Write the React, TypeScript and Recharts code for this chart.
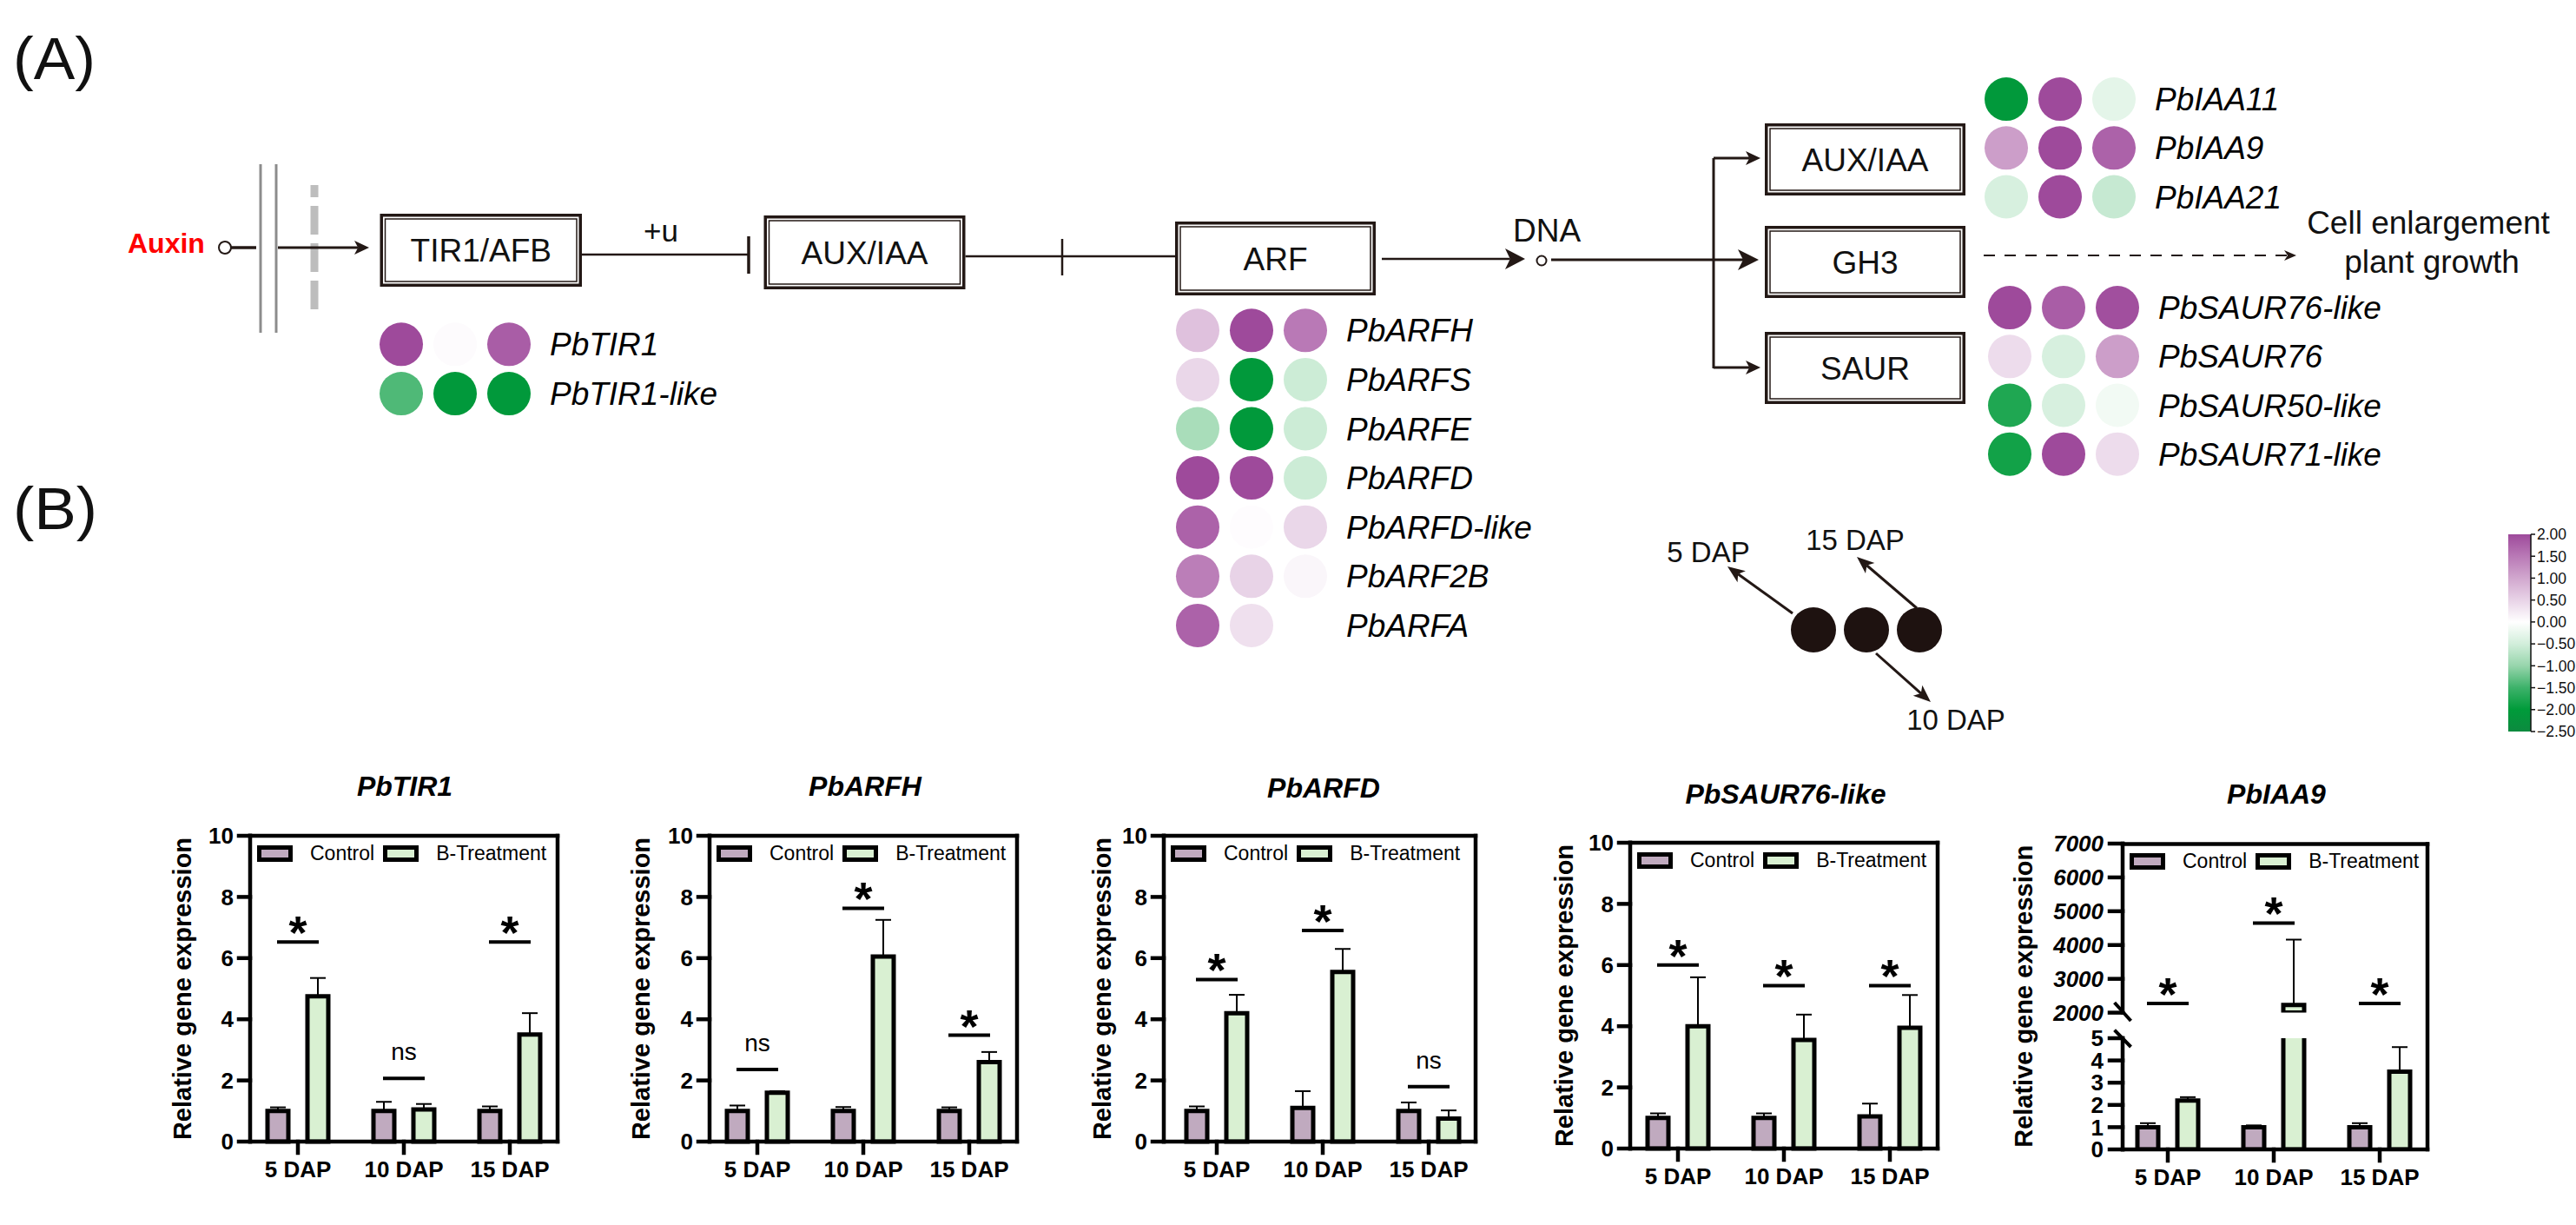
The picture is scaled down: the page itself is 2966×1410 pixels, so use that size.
import React from 'react';
import { ComposedChart, ScatterChart, Bar, Scatter, XAxis, YAxis, ErrorBar, Legend, Label } from 'recharts';

const FONT = '"Liberation Sans", Arial, Helvetica, sans-serif';
const INK = '#231815';

// ---------------- Panel A : heat-map values (z-scores) ----------------
const heatColumns = ['5 DAP', '10 DAP', '15 DAP'];
const tirGenes = ['PbTIR1', 'PbTIR1-like'];
const tirValues = [
  [2.0, 0.05, 1.8],
  [-1.4, -2.05, -2.05],
];
const arfGenes = ['PbARFH', 'PbARFS', 'PbARFE', 'PbARFD', 'PbARFD-like', 'PbARF2B', 'PbARFA'];
const arfValues = [
  [0.7, 2.0, 1.5],
  [0.45, -2.05, -0.55],
  [-0.85, -2.05, -0.55],
  [2.0, 2.0, -0.55],
  [1.75, 0.03, 0.45],
  [1.45, 0.5, 0.1],
  [1.75, 0.35, null],
];
const iaaGenes = ['PbIAA11', 'PbIAA9', 'PbIAA21'];
const iaaValues = [
  [-2.05, 2.0, -0.3],
  [1.1, 2.0, 1.75],
  [-0.45, 2.0, -0.6],
];
const saurGenes = ['PbSAUR76-like', 'PbSAUR76', 'PbSAUR50-like', 'PbSAUR71-like'];
const saurValues = [
  [2.0, 1.8, 1.95],
  [0.4, -0.45, 1.1],
  [-1.75, -0.45, -0.15],
  [-1.85, 2.0, 0.4],
];
const colorbarTicks = [2, 1.5, 1, 0.5, 0, -0.5, -1, -1.5, -2, -2.5];
const heatStopValues = [-2.5, -2, -1.5, -1, -0.5, 0, 0.5, 1, 1.5, 2];
const heatStopColors = ['#0C8A3F', '#009B3A', '#3DB26A', '#97D5AC', '#D2EEDB', '#FFFFFF', '#E8D3E7', '#D1A7CE', '#B979B6', '#9E4A9B'];

// ---------------- Panel B : qRT-PCR ----------------
const daps = ['5 DAP', '10 DAP', '15 DAP'];
const seriesNames = ['Control', 'B-Treatment'];
const CONTROL_FILL = '#C0AABF';
const TREAT_FILL = '#D9F0D2';

const tir1Control = [1.0, 1.0, 1.0];
const tir1ControlErr = [0.12, 0.3, 0.15];
const tir1Treat = [4.75, 1.05, 3.5];
const tir1TreatErr = [0.6, 0.18, 0.7];
const tir1SigY = [6.53, 2.07, 6.53];
const tir1SigText = ['*', 'ns', '*'];

const arfhControl = [1.0, 1.0, 1.0];
const arfhControlErr = [0.18, 0.13, 0.12];
const arfhTreat = [1.6, 6.05, 2.6];
const arfhTreatErr = [0.05, 1.2, 0.33];
const arfhSigY = [2.36, 7.63, 3.48];
const arfhSigText = ['ns', '*', '*'];

const arfdControl = [1.0, 1.1, 1.0];
const arfdControlErr = [0.15, 0.55, 0.28];
const arfdTreat = [4.2, 5.55, 0.75];
const arfdTreatErr = [0.6, 0.75, 0.27];
const arfdSigY = [5.3, 6.9, 1.8];
const arfdSigText = ['*', '*', 'ns'];

const saurControl = [1.0, 1.0, 1.05];
const saurControlErr = [0.15, 0.15, 0.42];
const saurTreat = [4.0, 3.55, 3.95];
const saurTreatErr = [1.6, 0.83, 1.07];
const saurSigY = [6.0, 5.33, 5.33];
const saurSigText = ['*', '*', '*'];

const iaa9Control = [1.0, 1.0, 1.0];
const iaa9ControlErr = [0.18, 0.08, 0.18];
const iaa9Treat = [2.2, 2230, 3.5];
const iaa9TreatErr = [0.15, 1930, 1.1];
const iaa9SigY = [2275, 4650, 2275];
const iaa9SigText = ['*', '*', '*'];

const yTicks10 = [0, 2, 4, 6, 8, 10];
const iaa9UpperTicks = [2000, 3000, 4000, 5000, 6000, 7000];
const iaa9LowerTicks = [0, 1, 2, 3, 4, 5];
const IAA9_BREAK_LOW = 2000;
const IAA9_BREAK_HIGH = 7000;
const IAA9_LOW_MAX = 5;

// ---------------- layout ----------------
type Lay = { L: number; T: number; W: number; H: number; yw: number; padL: number; padR: number };
const LAY_TIR1: Lay = { L: 288, T: 962, W: 354, H: 352, yw: 156, padL: -6, padR: -6 };
const LAY_ARFH: Lay = { L: 817, T: 962, W: 354, H: 352, yw: 158, padL: -6, padR: -6 };
const LAY_ARFD: Lay = { L: 1340, T: 962, W: 359, H: 352, yw: 142, padL: 0, padR: -7 };
const LAY_SAUR: Lay = { L: 1877, T: 970, W: 354, H: 352, yw: 152, padL: -6, padR: -6 };
const IAA9 = { L: 2444, W: 351, yw: 228, upT: 971.4, upH: 194.6, lowT: 1195, lowH: 128 };

// ---------------- helpers ----------------
function hexToRgb(h: string) {
  const n = parseInt(h.slice(1), 16);
  return [(n >> 16) & 255, (n >> 8) & 255, n & 255];
}
function heatColor(v: number) {
  const vs = heatStopValues;
  const x = Math.max(vs[0], Math.min(vs[vs.length - 1], v));
  let i = 0;
  while (i < vs.length - 2 && x > vs[i + 1]) i++;
  const t = (x - vs[i]) / (vs[i + 1] - vs[i]);
  const a = hexToRgb(heatStopColors[i]);
  const b = hexToRgb(heatStopColors[i + 1]);
  const c = a.map((av, k) => Math.round(av + (b[k] - av) * t));
  return `rgb(${c[0]},${c[1]},${c[2]})`;
}

function makeRows(ctrl: number[], ctrlErr: number[], trt: number[], trtErr: number[], sigY: number[], sigText: string[]) {
  return daps.map((dap, i) => ({
    dap,
    control: ctrl[i],
    controlErr: [0, ctrlErr[i]],
    treat: trt[i],
    treatErr: [0, trtErr[i]],
    sig: sigY[i],
    sigText: sigText[i],
  }));
}

const BAR_STROKE = 5;
const AXIS_W = 4.5;
const AXIS_LINE = { stroke: '#000', strokeWidth: AXIS_W, strokeLinecap: 'square' };
const TICK_STYLE = { fill: '#000', fontSize: 26, fontWeight: 700, fontFamily: FONT };

const SigShape = (props: any) => {
  const { cx, cy, payload } = props;
  if (cx == null || cy == null || payload == null || payload.sig == null) return <g />;
  const star = payload.sigText === '*';
  return (
    <g>
      <line x1={cx - 24} x2={cx + 24} y1={cy} y2={cy} stroke="#000" strokeWidth={4} />
      <text
        x={cx}
        y={star ? cy + 8 : cy - 21}
        textAnchor="middle"
        fontFamily={FONT}
        fontWeight={star ? 700 : 400}
        fontSize={star ? 54 : 28}
        fill="#000"
      >
        {payload.sigText}
      </text>
    </g>
  );
};

const LegendContent = (props: any) => {
  const items = (props.payload || [])
    .filter((it: any) => seriesNames.indexOf(it.value) >= 0)
    .sort((a: any, b: any) => seriesNames.indexOf(a.value) - seriesNames.indexOf(b.value));
  return (
    <div style={{ display: 'flex', alignItems: 'center', fontFamily: FONT, fontSize: 23, color: '#000', whiteSpace: 'nowrap', lineHeight: '19px' }}>
      {items.map((it: any, i: number) => (
        <div key={i} style={{ display: 'flex', alignItems: 'center', marginRight: 10 }}>
          <svg width={41} height={19} style={{ display: 'block' }}>
            <rect x={2.5} y={2.5} width={36} height={14} fill={it.value === seriesNames[0] ? CONTROL_FILL : TREAT_FILL} stroke="#000" strokeWidth={5} />
          </svg>
          <span style={{ marginLeft: 20 }}>{it.value}</span>
        </div>
      ))}
    </div>
  );
};

const RotLabel = (props: any) => {
  const { viewBox, shift } = props;
  if (!viewBox) return null;
  const cx = viewBox.x + viewBox.width / 2;
  const cy = viewBox.y + viewBox.height / 2 + (shift || 0);
  return (
    <text x={cx} y={cy} dy="0.355em" transform={`rotate(-90 ${cx} ${cy})`} textAnchor="middle" fill="#000" fontFamily={FONT} fontSize={29} fontWeight={700}>
      Relative gene expression
    </text>
  );
};

function BarPanel({ rows, lay }: { rows: any[]; lay: Lay }) {
  const mt = 20;
  const mr = 20;
  const xh = 60;
  const width = lay.yw + lay.W + mr;
  const height = mt + lay.H + xh;
  return (
    <div style={{ position: 'absolute', left: lay.L - lay.yw, top: lay.T - mt, width, height }}>
      <ComposedChart width={width} height={height} data={rows} margin={{ top: mt, right: mr, bottom: 0, left: 0 }} barGap={22}>
        <XAxis dataKey="dap" stroke="#000" strokeWidth={AXIS_W} padding={{ left: lay.padL, right: lay.padR }} height={xh} tickSize={13} tickMargin={10} axisLine={AXIS_LINE} tickLine={AXIS_LINE} tick={TICK_STYLE} interval={0} />
        <YAxis domain={[0, 10]} stroke="#000" strokeWidth={AXIS_W} ticks={yTicks10} width={lay.yw} tickSize={13} tickMargin={6} axisLine={AXIS_LINE} tickLine={AXIS_LINE} tick={TICK_STYLE} interval={0}>
          <Label content={(p: any) => <RotLabel viewBox={p.viewBox} shift={0} />} />
        </YAxis>
        <Legend layout="vertical" align="center" verticalAlign="middle" content={LegendContent} wrapperStyle={{ left: lay.yw + 8, top: mt + 11, width: 420 }} />
        <Bar dataKey="control" name={seriesNames[0]} fill={CONTROL_FILL} stroke="#000" strokeWidth={BAR_STROKE} barSize={24} isAnimationActive={false}>
          <ErrorBar dataKey="controlErr" direction="y" width={9} stroke="#000" strokeWidth={2} isAnimationActive={false} />
        </Bar>
        <Bar dataKey="treat" name={seriesNames[1]} fill={TREAT_FILL} stroke="#000" strokeWidth={BAR_STROKE} barSize={24} isAnimationActive={false}>
          <ErrorBar dataKey="treatErr" direction="y" width={9} stroke="#000" strokeWidth={2} isAnimationActive={false} />
        </Bar>
        <Scatter dataKey="sig" name="sig" shape={SigShape} legendType="none" isAnimationActive={false} />
      </ComposedChart>
    </div>
  );
}

function Iaa9Panel() {
  const { yw, L, W, upT, upH, lowT, lowH } = IAA9;
  const mr = 20;
  const width = yw + W + mr;
  const upMt = 20;
  const lowMt = 10;
  const xh = 60;
  const pad = { left: -9, right: -6 };
  const upperRows = daps.map((dap, i) => ({
    dap,
    control: iaa9Control[i] >= IAA9_BREAK_LOW ? iaa9Control[i] : null,
    controlErr: iaa9Control[i] >= IAA9_BREAK_LOW ? [0, iaa9ControlErr[i]] : null,
    treat: iaa9Treat[i] >= IAA9_BREAK_LOW ? iaa9Treat[i] : null,
    treatErr: iaa9Treat[i] >= IAA9_BREAK_LOW ? [0, iaa9TreatErr[i]] : null,
    sig: iaa9SigY[i],
    sigText: iaa9SigText[i],
  }));
  const lowerRows = daps.map((dap, i) => ({
    dap,
    control: iaa9Control[i],
    controlErr: iaa9Control[i] <= IAA9_LOW_MAX ? [0, iaa9ControlErr[i]] : null,
    treat: iaa9Treat[i],
    treatErr: iaa9Treat[i] <= IAA9_LOW_MAX ? [0, iaa9TreatErr[i]] : null,
  }));
  return (
    <>
      <div style={{ position: 'absolute', left: L - yw, top: upT - upMt, width, height: upMt + upH }}>
        <ComposedChart width={width} height={upMt + upH} data={upperRows} margin={{ top: upMt, right: mr, bottom: 0, left: 0 }} barGap={22}>
          <XAxis dataKey="dap" hide padding={pad} />
          <YAxis domain={[IAA9_BREAK_LOW, IAA9_BREAK_HIGH]} stroke="#000" strokeWidth={AXIS_W} ticks={iaa9UpperTicks} allowDataOverflow width={yw} tickSize={15} tickMargin={7} axisLine={AXIS_LINE} tickLine={AXIS_LINE} tick={{ ...TICK_STYLE, fontStyle: 'italic' }} interval={0}>
            <Label content={(p: any) => <RotLabel viewBox={p.viewBox} shift={(lowT + lowH - upT) / 2 - upH / 2} />} />
          </YAxis>
          <Legend layout="vertical" align="center" verticalAlign="middle" content={LegendContent} wrapperStyle={{ left: yw + 8, top: upMt + 11, width: 420 }} />
          <Bar dataKey="control" name={seriesNames[0]} fill={CONTROL_FILL} stroke="#000" strokeWidth={BAR_STROKE} barSize={24} isAnimationActive={false}>
            <ErrorBar dataKey="controlErr" direction="y" width={9} stroke="#000" strokeWidth={2} isAnimationActive={false} />
          </Bar>
          <Bar dataKey="treat" name={seriesNames[1]} fill={TREAT_FILL} stroke="#000" strokeWidth={BAR_STROKE} barSize={24} isAnimationActive={false}>
            <ErrorBar dataKey="treatErr" direction="y" width={9} stroke="#000" strokeWidth={2} isAnimationActive={false} />
          </Bar>
          <Scatter dataKey="sig" name="sig" shape={SigShape} legendType="none" isAnimationActive={false} />
        </ComposedChart>
      </div>
      <div style={{ position: 'absolute', left: L - yw, top: lowT - lowMt, width, height: lowMt + lowH + xh }}>
        <ComposedChart width={width} height={lowMt + lowH + xh} data={lowerRows} margin={{ top: lowMt, right: mr, bottom: 0, left: 0 }} barGap={22}>
          <XAxis dataKey="dap" stroke="#000" strokeWidth={AXIS_W} padding={pad} height={xh} tickSize={13} tickMargin={10} axisLine={AXIS_LINE} tickLine={AXIS_LINE} tick={TICK_STYLE} interval={0} />
          <YAxis domain={[0, IAA9_LOW_MAX]} stroke="#000" strokeWidth={AXIS_W} ticks={iaa9LowerTicks} allowDataOverflow width={yw} tickSize={15} tickMargin={7} axisLine={AXIS_LINE} tickLine={AXIS_LINE} tick={TICK_STYLE} interval={0} />
          <Bar dataKey="control" name={seriesNames[0]} fill={CONTROL_FILL} stroke="#000" strokeWidth={BAR_STROKE} barSize={24} isAnimationActive={false}>
            <ErrorBar dataKey="controlErr" direction="y" width={9} stroke="#000" strokeWidth={2} isAnimationActive={false} />
          </Bar>
          <Bar dataKey="treat" name={seriesNames[1]} fill={TREAT_FILL} stroke="#000" strokeWidth={BAR_STROKE} barSize={24} isAnimationActive={false}>
            <ErrorBar dataKey="treatErr" direction="y" width={9} stroke="#000" strokeWidth={2} isAnimationActive={false} />
          </Bar>
        </ComposedChart>
      </div>
    </>
  );
}

const HeatDot = (props: any) => {
  const { cx, cy, payload } = props;
  if (cx == null || cy == null) return <g />;
  return <circle cx={cx} cy={cy} r={25} fill={heatColor(payload.value)} />;
};

function HeatGroup({ genes, values, x0, y0, dx, dy }: { genes: string[]; values: (number | null)[][]; x0: number; y0: number; dx: number; dy: number }) {
  const n = genes.length;
  const W = heatColumns.length * dx;
  const H = n * dy;
  const labelW = 340;
  const pts: any[] = [];
  values.forEach((row, r) =>
    row.forEach((v, c) => {
      if (v != null) pts.push({ col: c, row: r, value: v, gene: genes[r], dap: heatColumns[c] });
    })
  );
  return (
    <div style={{ position: 'absolute', left: x0 - dx / 2, top: y0 - dy / 2, width: W + labelW, height: H }}>
      <ScatterChart width={W + labelW} height={H} margin={{ top: 0, right: 0, bottom: 0, left: 0 }}>
        <XAxis type="number" dataKey="col" domain={[-0.5, heatColumns.length - 0.5]} allowDataOverflow hide />
        <YAxis
          type="number"
          dataKey="row"
          domain={[-0.5, n - 0.5]}
          allowDataOverflow
          reversed
          orientation="right"
          width={labelW}
          ticks={genes.map((_, i) => i)}
          tickFormatter={(i: number) => genes[i]}
          interval={0}
          tickSize={0}
          tickMargin={16}
          tickLine={false}
          axisLine={false}
          tick={{ fill: '#000', fontSize: 37, fontStyle: 'italic', fontFamily: FONT }}
        />
        <Scatter data={pts} shape={HeatDot} isAnimationActive={false} />
      </ScatterChart>
    </div>
  );
}

function Arrow({ x1, y1, x2, y2, len = 18, half = 8, sw = 2.5 }: any) {
  const ang = Math.atan2(y2 - y1, x2 - x1);
  const c = Math.cos(ang);
  const s = Math.sin(ang);
  const bx = x2 - len * c;
  const by = y2 - len * s;
  const nx = x2 - len * 0.75 * c;
  const ny = y2 - len * 0.75 * s;
  const p1 = `${bx - half * s},${by + half * c}`;
  const p2 = `${bx + half * s},${by - half * c}`;
  return (
    <g>
      <line x1={x1} y1={y1} x2={nx} y2={ny} stroke={INK} strokeWidth={sw} />
      <polygon points={`${x2},${y2} ${p1} ${nx},${ny} ${p2}`} fill={INK} />
    </g>
  );
}

function DBox({ x1, y1, x2, y2, label, baseline }: any) {
  return (
    <g>
      <rect x={x1 + 1.75} y={y1 + 1.75} width={x2 - x1 - 3.5} height={y2 - y1 - 3.5} fill="#fff" stroke={INK} strokeWidth={3.5} />
      <rect x={x1 + 6} y={y1 + 6} width={x2 - x1 - 12} height={y2 - y1 - 12} fill="none" stroke={INK} strokeWidth={1.5} />
      <text x={(x1 + x2) / 2} y={baseline} textAnchor="middle" fontFamily={FONT} fontSize={37} fill="#111">
        {label}
      </text>
    </g>
  );
}

function PlotFrame({ L, T, W, B }: { L: number; T: number; W: number; B: number }) {
  const half = AXIS_W / 2;
  return (
    <g>
      <line x1={L - half} y1={T} x2={L + W + half} y2={T} stroke="#000" strokeWidth={AXIS_W} />
      <line x1={L + W} y1={T - half} x2={L + W} y2={B + half} stroke="#000" strokeWidth={AXIS_W} />
    </g>
  );
}

function Diagram() {
  const cbX = 2888;
  const cbW = 26;
  const cbTop = 615;
  const cbBot = 842;
  const cbMax = colorbarTicks[0];
  const cbMin = colorbarTicks[colorbarTicks.length - 1];
  const cbY = (v: number) => cbTop + ((cbMax - v) / (cbMax - cbMin)) * (cbBot - cbTop);
  const fmt = (v: number) => (v < 0 ? '\u2212' + Math.abs(v).toFixed(2) : v.toFixed(2));
  const frames = [LAY_TIR1, LAY_ARFH, LAY_ARFD, LAY_SAUR];
  return (
    <svg width={2966} height={1410} style={{ position: 'absolute', left: 0, top: 0, pointerEvents: 'none' }}>
      <defs>
        <linearGradient id="cbGrad" x1="0" y1="0" x2="0" y2="1">
          {heatStopValues
            .map((v, i) => ({ v, c: heatStopColors[i] }))
            .reverse()
            .map((s, i) => (
              <stop key={i} offset={(cbMax - s.v) / (cbMax - cbMin)} stopColor={s.c} />
            ))}
        </linearGradient>
      </defs>
      <text x={15} y={91} fontFamily={FONT} fontSize={68} textLength={95} lengthAdjust="spacingAndGlyphs" fill="#111">(A)</text>
      <text x={15} y={609} fontFamily={FONT} fontSize={68} textLength={97} lengthAdjust="spacingAndGlyphs" fill="#111">(B)</text>

      {/* auxin entry */}
      <text x={147} y={291} fontFamily={FONT} fontSize={32} fontWeight={700} fill="#FF0000">Auxin</text>
      <circle cx={259} cy={285} r={7} fill="#fff" stroke={INK} strokeWidth={2} />
      <line x1={266} y1={285} x2={295} y2={285} stroke={INK} strokeWidth={3.5} />
      <line x1={300} y1={189} x2={300} y2={383} stroke="#8c8c8c" strokeWidth={3} />
      <line x1={318} y1={189} x2={318} y2={383} stroke="#8c8c8c" strokeWidth={3} />
      <line x1={362} y1={213} x2={362} y2={358} stroke="#BDBDBD" strokeWidth={9} strokeDasharray="33 10" strokeDashoffset={19} />
      <Arrow x1={320} y1={285} x2={425} y2={285} len={17} half={8} sw={3} />

      <DBox x1={437.5} y1={246} x2={670} y2={330} label="TIR1/AFB" baseline={301} />
      <line x1={670} y1={293} x2={862} y2={293} stroke={INK} strokeWidth={2.5} />
      <line x1={862} y1={272} x2={862} y2={315} stroke={INK} strokeWidth={3.5} />
      <text x={761} y={278} textAnchor="middle" fontFamily={FONT} fontSize={35} fill="#111">+u</text>

      <DBox x1={879.5} y1={248} x2={1111.5} y2={333} label="AUX/IAA" baseline={304} />
      <line x1={1111.5} y1={295} x2={1353} y2={295} stroke={INK} strokeWidth={2.5} />
      <line x1={1223} y1={275} x2={1223} y2={317} stroke={INK} strokeWidth={2.5} />

      <DBox x1={1353} y1={255} x2={1584} y2={340} label="ARF" baseline={311} />
      <Arrow x1={1591} y1={298} x2={1756} y2={298} len={23} half={12} sw={2.5} />
      <circle cx={1775} cy={300} r={5.5} fill="#fff" stroke={INK} strokeWidth={2} />
      <text x={1781} y={278} textAnchor="middle" fontFamily={FONT} fontSize={37} fill="#111">DNA</text>
      <Arrow x1={1786} y1={299} x2={2025} y2={299} len={24} half={12} sw={3} />
      <line x1={1973} y1={182} x2={1973} y2={424} stroke={INK} strokeWidth={3} />
      <Arrow x1={1973} y1={182} x2={2027} y2={182} len={17} half={8} sw={3} />
      <Arrow x1={1973} y1={423} x2={2027} y2={423} len={17} half={8} sw={3} />

      <DBox x1={2032} y1={142} x2={2263} y2={225} label="AUX/IAA" baseline={197} />
      <DBox x1={2032} y1={260} x2={2263} y2={343} label="GH3" baseline={315} />
      <DBox x1={2032} y1={382} x2={2263} y2={465} label="SAUR" baseline={437} />

      <line x1={2284} y1={294} x2={2634} y2={294} stroke={INK} strokeWidth={2} strokeDasharray="13 11" />
      <polygon points="2630,288 2644,294 2630,300 2634,294" fill={INK} />
      <text x={2796} y={269} textAnchor="middle" fontFamily={FONT} fontSize={37} fill="#111">Cell enlargement</text>
      <text x={2800} y={314} textAnchor="middle" fontFamily={FONT} fontSize={37} fill="#111">plant growth</text>

      {/* DAP key */}
      <circle cx={2088} cy={725} r={26} fill="#1E1210" />
      <circle cx={2149} cy={725} r={26} fill="#1E1210" />
      <circle cx={2210} cy={725} r={26} fill="#1E1210" />
      <Arrow x1={2064} y1={706} x2={1989} y2={652} len={20} half={8} sw={3} />
      <Arrow x1={2207} y1={700} x2={2138} y2={641} len={20} half={8} sw={3} />
      <Arrow x1={2160} y1={752} x2={2223} y2={808} len={20} half={8} sw={3} />
      <text x={1967} y={647} textAnchor="middle" fontFamily={FONT} fontSize={33} fill="#111">5 DAP</text>
      <text x={2136} y={633} textAnchor="middle" fontFamily={FONT} fontSize={33} fill="#111">15 DAP</text>
      <text x={2252} y={840} textAnchor="middle" fontFamily={FONT} fontSize={33} fill="#111">10 DAP</text>

      {/* colour bar */}
      <rect x={cbX} y={cbTop} width={cbW} height={cbBot - cbTop} fill="url(#cbGrad)" />
      <line x1={cbX + cbW} y1={cbTop} x2={cbX + cbW} y2={cbBot} stroke="#111" strokeWidth={1.5} />
      {colorbarTicks.map((v, i) => (
        <g key={i}>
          <line x1={cbX + cbW} x2={cbX + cbW + 5} y1={cbY(v)} y2={cbY(v)} stroke="#111" strokeWidth={1.5} />
          <text x={cbX + cbW + 7} y={cbY(v)} dy="0.36em" fontFamily={FONT} fontSize={17.5} fill="#111">{fmt(v)}</text>
        </g>
      ))}

      {/* panel B titles */}
      <text x={466} y={916} textAnchor="middle" fontFamily={FONT} fontSize={32} fontWeight={700} fontStyle="italic" fill="#000">PbTIR1</text>
      <text x={996} y={916} textAnchor="middle" fontFamily={FONT} fontSize={32} fontWeight={700} fontStyle="italic" fill="#000">PbARFH</text>
      <text x={1524} y={918} textAnchor="middle" fontFamily={FONT} fontSize={32} fontWeight={700} fontStyle="italic" fill="#000">PbARFD</text>
      <text x={2056} y={925} textAnchor="middle" fontFamily={FONT} fontSize={32} fontWeight={700} fontStyle="italic" fill="#000">PbSAUR76-like</text>
      <text x={2621} y={925} textAnchor="middle" fontFamily={FONT} fontSize={32} fontWeight={700} fontStyle="italic" fill="#000">PbIAA9</text>

      {/* plot frames (top & right borders) */}
      {frames.map((f, i) => (
        <PlotFrame key={i} L={f.L} T={f.T} W={f.W} B={f.T + f.H} />
      ))}
      <PlotFrame L={IAA9.L} T={IAA9.upT} W={IAA9.W} B={IAA9.lowT + IAA9.lowH} />

      {/* IAA9 axis break */}
      <line x1={2434.6} y1={1154} x2={2453.5} y2={1175} stroke="#000" strokeWidth={4} />
      <line x1={2434.6} y1={1185.7} x2={2453.5} y2={1205} stroke="#000" strokeWidth={4} />
    </svg>
  );
}

const tir1Rows = makeRows(tir1Control, tir1ControlErr, tir1Treat, tir1TreatErr, tir1SigY, tir1SigText);
const arfhRows = makeRows(arfhControl, arfhControlErr, arfhTreat, arfhTreatErr, arfhSigY, arfhSigText);
const arfdRows = makeRows(arfdControl, arfdControlErr, arfdTreat, arfdTreatErr, arfdSigY, arfdSigText);
const saurRows = makeRows(saurControl, saurControlErr, saurTreat, saurTreatErr, saurSigY, saurSigText);

export default function App() {
  return (
    <div style={{ position: 'absolute', left: 0, top: 0, width: 2966, height: 1410, background: '#fff', overflow: 'hidden', fontFamily: FONT }}>
      <style>{'.recharts-surface{overflow:visible}'}</style>
      <HeatGroup genes={tirGenes} values={tirValues} x0={462} y0={396} dx={62} dy={56.7} />
      <HeatGroup genes={arfGenes} values={arfValues} x0={1379} y0={380.4} dx={62} dy={56.6} />
      <HeatGroup genes={iaaGenes} values={iaaValues} x0={2310} y0={113.7} dx={62} dy={56.2} />
      <HeatGroup genes={saurGenes} values={saurValues} x0={2313.6} y0={354.4} dx={62} dy={56.2} />
      <BarPanel rows={tir1Rows} lay={LAY_TIR1} />
      <BarPanel rows={arfhRows} lay={LAY_ARFH} />
      <BarPanel rows={arfdRows} lay={LAY_ARFD} />
      <BarPanel rows={saurRows} lay={LAY_SAUR} />
      <Iaa9Panel />
      <Diagram />
    </div>
  );
}
